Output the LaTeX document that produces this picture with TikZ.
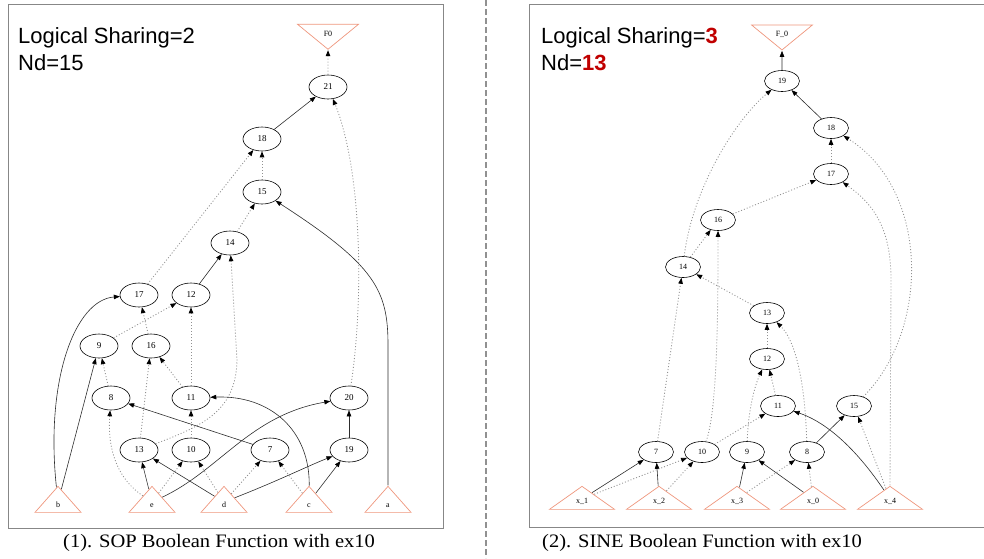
\documentclass[tikz,border=0pt]{standalone}
\usepackage{fontspec}
\setmainfont{Liberation Serif}
\newfontfamily\sansf{Liberation Sans}
\newfontfamily\capf[FakeStretch=1.08]{Liberation Serif}
\usetikzlibrary{shapes.geometric,arrows.meta}
\definecolor{tri}{RGB}{238,150,125}
\definecolor{dotc}{RGB}{145,145,145}
\definecolor{solc}{RGB}{45,45,45}
\definecolor{framec}{RGB}{135,135,135}
\definecolor{redc}{RGB}{192,0,0}
\begin{document}
\begin{tikzpicture}[x=1pt,y=-1pt,
 ell/.style={ellipse,draw=black,line width=0.6pt,minimum width=38pt,minimum height=24pt,inner sep=0pt,font=\fontsize{9}{10}\selectfont},
 rell/.style={ell,minimum width=35pt,minimum height=21pt,font=\fontsize{8}{9}\selectfont},
 utri/.style={isosceles triangle,isosceles triangle stretches,shape border rotate=90,draw=tri,line width=0.7pt,inner sep=0pt,minimum width=46pt,minimum height=26pt},
 rtri/.style={utri,minimum width=65pt,minimum height=23pt},
 dtri/.style={utri,shape border rotate=270,minimum width=61pt,minimum height=25pt,font=\fontsize{8}{9}\selectfont},
 tlbl/.style={anchor=base,yshift=5pt,inner sep=0pt,font=\fontsize{8}{9}\selectfont},
 arr/.style={-{Triangle[length=6pt,width=4.5pt,color=black]}},
 sol/.style={arr,draw=solc,line width=0.6pt},
 dot/.style={arr,draw=dotc,line width=0.85pt,dash pattern=on 1pt off 2pt},
 ttl/.style={anchor=base west,inner sep=0pt,font=\sansf\fontsize{22}{26}\selectfont},
 captxt/.style={anchor=base west,inner sep=0pt,font=\capf\fontsize{19}{22}\selectfont}
]
\useasboundingbox (0,0) rectangle (984,558);
% frames and divider
\draw[framec,line width=0.9pt] (8,4) rectangle (443,528);
\draw[framec,line width=0.9pt] (986,4) -- (529,4) -- (529,527) -- (986,527);
\draw[dotc,line width=1.5pt,dash pattern=on 6pt off 3pt] (486,0) -- (486,558);
% titles
\node[ttl] (t1) at (18,43) {Logical Sharing=2};
\node[ttl] (t2) at (18,70) {Nd=15};
\node[ttl] (t3) at (541,43) {Logical Sharing=\textcolor{redc}{\bfseries 3}};
\node[ttl] (t4) at (541,70) {Nd=\textcolor{redc}{\bfseries 13}};
\node[captxt] (c1) at (63,547) {(1). SOP Boolean Function with ex10};
\node[captxt] (c2) at (542,547) {(2). SINE Boolean Function with ex10};
% ---------- left graph ----------
\node[dtri] (lF) at (328,34) {F0};
\node[ell] (l21) at (328,87) {21};
\node[ell] (l18) at (262,139) {18};
\node[ell] (l15) at (262,192) {15};
\node[ell] (l14) at (230,243) {14};
\node[ell] (l17) at (139,295) {17};
\node[ell] (l12) at (191,295) {12};
\node[ell] (l9) at (99,346) {9};
\node[ell] (l16) at (151,346) {16};
\node[ell] (l8) at (111,398) {8};
\node[ell] (l11) at (191,398) {11};
\node[ell] (l20) at (349,398) {20};
\node[ell] (l13) at (139,450) {13};
\node[ell] (l10) at (191,450) {10};
\node[ell] (l7) at (270,450) {7};
\node[ell] (l19) at (349,450) {19};
\node[utri,label={[tlbl]south:b}] (lb) at (58,502) {};
\node[utri,label={[tlbl]south:e}] (le) at (152,502) {};
\node[utri,label={[tlbl]south:d}] (ld) at (224,502) {};
\node[utri,label={[tlbl]south:c}] (lc) at (309,502) {};
\node[utri,label={[tlbl]south:a}] (la) at (388,502) {};
\draw[dot] (l21) -- (lF);
\draw[sol] (l18) -- (l21);
\draw[dot] (l20) .. controls (364,300) and (362,170) .. (l21);
\draw[dot] (l15) -- (l18);
\draw[dot] (l17) -- (l18);
\draw[sol] (la.north) -- (388,345) .. controls (388,290) and (375,265) .. (l15);
\draw[dot] (l14) -- (l15);
\draw[sol] (l12) -- (l14);
\draw[dot] (l13) .. controls (205,425) and (236,410) .. (237,360) -- (l14);
\draw[sol] (lb) .. controls (45,380) and (75,300) .. (l17);
\draw[sol] (lb) -- (l9);
\draw[dot] (l9) -- (l12);
\draw[dot] (l16) -- (l17);
\draw[dot] (l11) -- (l12);
\draw[dot] (l11) -- (l16);
\draw[dot] (l8) -- (l9);
\draw[dot] (l13) -- (l16);
\draw[dot] (l10) -- (l11);
\draw[dot] (le) .. controls (112,475) and (108,440) .. (l8);
\draw[sol] (le) -- (l13);
\draw[dot] (le) -- (l10);
\draw[sol] (le) .. controls (220,470) and (250,415) .. (l20);
\draw[sol] (ld) -- (l13);
\draw[dot] (ld) -- (l10);
\draw[dot] (ld) -- (l7);
\draw[sol] (ld) .. controls (280,480) and (310,465) .. (l19);
\draw[sol] (l7) -- (l8);
\draw[dot] (lc) -- (l7);
\draw[sol] (lc) .. controls (310,430) and (270,395) .. (l11);
\draw[sol] (lc) -- (l19);
\draw[sol] (l19) -- (l20);
% ---------- right graph ----------
\node[dtri] (rF) at (782,34) {F\_0};
\node[rell] (r19) at (782,81) {19};
\node[rell] (r18) at (831,128) {18};
\node[rell] (r17) at (831,174) {17};
\node[rell] (r16) at (718,220) {16};
\node[rell] (r14) at (683,267) {14};
\node[rell] (r13) at (767,313) {13};
\node[rell] (r12) at (767,359) {12};
\node[rell] (r11) at (778,406) {11};
\node[rell] (r15) at (854,406) {15};
\node[rell] (r7) at (656,452) {7};
\node[rell] (r10) at (702,452) {10};
\node[rell] (r9) at (747,452) {9};
\node[rell] (r8) at (807,452) {8};
\node[rtri,label={[tlbl,yshift=1pt]south:x\_1}] (rx1) at (582,499) {};
\node[rtri,label={[tlbl,yshift=1pt]south:x\_2}] (rx2) at (659,499) {};
\node[rtri,label={[tlbl,yshift=1pt]south:x\_3}] (rx3) at (737,499) {};
\node[rtri,label={[tlbl,yshift=1pt]south:x\_0}] (rx0) at (813,499) {};
\node[rtri,label={[tlbl,yshift=1pt]south:x\_4}] (rx4) at (890,499) {};
\draw[sol] (r19) -- (rF);
\draw[sol] (r18) -- (r19);
\draw[dot] (r14) .. controls (692,190) and (735,120) .. (r19);
\draw[dot] (r17) -- (r18);
\draw[dot] (r15) .. controls (930,330) and (930,190) .. (r18);
\draw[dot] (rx4.north) -- (891,280) .. controls (891,230) and (875,205) .. (r17);
\draw[dot] (r16) -- (r17);
\draw[dot] (r14) -- (r16);
\draw[dot] (r10) .. controls (718,410) and (718,300) .. (r16);
\draw[dot] (r13) -- (r14);
\draw[dot] (r7) -- (r14);
\draw[dot] (r12) -- (r13);
\draw[dot] (r8) .. controls (805,380) and (795,340) .. (r13);
\draw[dot] (r11) -- (r12);
\draw[dot] (r9) .. controls (748,410) and (755,385) .. (r12);
\draw[dot] (r10) -- (r11);
\draw[sol] (rx4) .. controls (850,440) and (820,420) .. (r11);
\draw[sol] (r8) -- (r15);
\draw[dot] (rx4) -- (r15);
\draw[sol] (rx1) -- (r7);
\draw[dot] (rx1) -- (r10);
\draw[sol] (rx2) -- (r7);
\draw[dot] (rx2) -- (r10);
\draw[sol] (rx3) -- (r9);
\draw[dot] (rx3) -- (r8);
\draw[sol] (rx0) -- (r9);
\draw[dot] (rx0) -- (r8);
\end{tikzpicture}
\end{document}
